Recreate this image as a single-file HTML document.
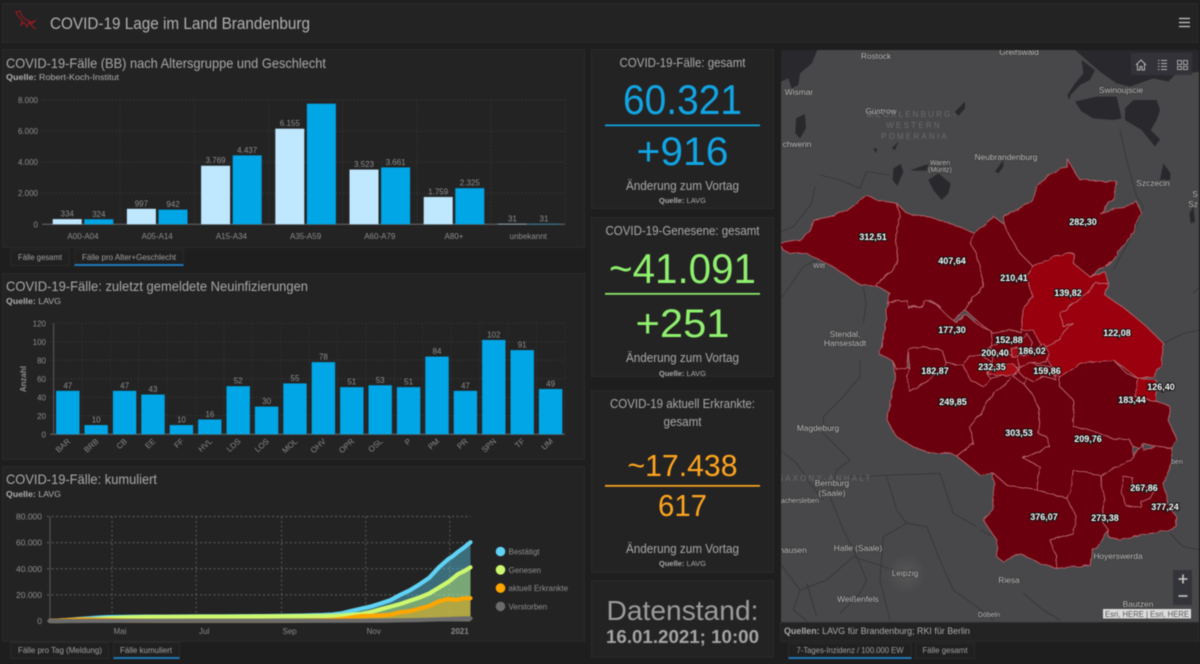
<!DOCTYPE html>
<html lang="de">
<head>
<meta charset="utf-8">
<title>COVID-19 Lage im Land Brandenburg</title>
<style>
html,body{margin:0;padding:0;background:#1e1e1e;width:1200px;height:664px;overflow:hidden;font-family:"Liberation Sans",sans-serif}
#stage{position:relative;width:1200px;height:664px;filter:blur(.45px)}
.panel{position:absolute;background:#232323;border:1px solid #2b2b2b;box-sizing:border-box}
.tab{position:absolute;background:#202020;border:1px solid #2a2a2a;box-sizing:border-box}
.tab.on{border-bottom:2px solid #1f78b8}
svg.layer{position:absolute;left:0;top:0;width:1200px;height:664px;pointer-events:none}
text{font-family:"Liberation Sans",sans-serif}
.t{fill:#a9a9a9;font-size:14px}
.q{fill:#b0b0b0;font-size:8.5px}
.c{text-anchor:middle}
.tabt{fill:#a0a0a0;font-size:8px;text-anchor:middle}
.m{fill:#bcbcbc;font-size:8.4px;text-anchor:middle;paint-order:stroke;stroke:#3a3a3a;stroke-width:1.5px}
.g{fill:#6c6c6c;font-size:8px;text-anchor:middle;letter-spacing:2.2px}
.v{fill:#fff;font-size:9px;font-weight:bold;text-anchor:middle;paint-order:stroke;stroke:#111;stroke-width:2px}
</style>
</head>
<body>
<div id="stage">
  <div class="panel" style="left:2px;top:3px;width:1196px;height:40px"></div>
  <div class="panel" style="left:2px;top:49px;width:583px;height:199px"></div>
  <div class="panel" style="left:2px;top:273px;width:583px;height:187px"></div>
  <div class="panel" style="left:2px;top:466px;width:583px;height:176px"></div>
  <div class="panel" style="left:591px;top:49px;width:183px;height:160px"></div>
  <div class="panel" style="left:591px;top:217px;width:183px;height:160px"></div>
  <div class="panel" style="left:591px;top:390px;width:183px;height:183px"></div>
  <div class="panel" style="left:591px;top:580px;width:183px;height:78px"></div>
  <div class="panel" style="left:780px;top:622px;width:419px;height:20px"></div>

  <div class="tab" style="left:10px;top:249px;width:60px;height:17px"></div>
  <div class="tab on" style="left:74px;top:249px;width:110px;height:17px"></div>
  <div class="tab" style="left:10px;top:642px;width:99px;height:17px"></div>
  <div class="tab on" style="left:113px;top:642px;width:67px;height:17px"></div>
  <div class="tab on" style="left:788px;top:643px;width:124px;height:16px"></div>
  <div class="tab" style="left:915px;top:643px;width:60px;height:16px"></div>

  <!-- MAP -->
  <svg class="layer" viewBox="0 0 1200 664">
    <defs>
      <clipPath id="mapclip"><rect x="781" y="50" width="418" height="572"/></clipPath>
      <filter id="rough" x="-5%" y="-5%" width="110%" height="110%">
        <feTurbulence type="fractalNoise" baseFrequency="0.11" numOctaves="2" seed="4"/>
        <feDisplacementMap in="SourceGraphic" scale="4"/>
      </filter>
      <radialGradient id="city"><stop offset="0" stop-color="#666" stop-opacity=".5"/><stop offset="1" stop-color="#666" stop-opacity="0"/></radialGradient>
    </defs>
    <g clip-path="url(#mapclip)">
      <rect x="781" y="50" width="418" height="572" fill="#48484a"/>
      <g transform="translate(780,40) scale(.33333)" fill="#29292d">
        <path d="M885 30L1260 30L1260 95L1185 105L1165 125L1120 115L1050 140L1010 130L960 95Z"/>
        <path d="M3 30L112 30L95 70L60 100L55 135L35 145L25 115L3 125Z"/>
        <path d="M905 60L945 90L930 120L900 135L872 165L868 180L862 165L885 130L910 100Z"/>
        <path d="M885 185L950 170L1010 170L1025 235L1000 240L940 235L905 215Z"/>
        <path d="M1035 205L1060 180L1130 180L1140 210L1130 240L1112 270L1140 298L1125 320L1085 270L1060 255L1035 240Z"/>
        <path d="M1150 370L1172 400L1170 420L1140 420Z"/>
        <path d="M48 235L75 222L78 265L60 295L46 280Z"/>
        <path d="M525 215L555 185L555 205L535 228Z"/>
        <path d="M445 420L475 400L512 430L505 460L485 480L460 450Z"/>
        <path d="M340 385L362 372L370 395L352 438L338 420ZM392 390L445 372L440 392L400 392Z"/>
        <path d="M645 395L670 360L670 380L655 400ZM280 325L292 325L288 340ZM335 325L355 305L345 330ZM1228 520L1240 500L1245 545L1232 550Z"/>
      </g>
      <g transform="translate(780,40) scale(.33333)" fill="none" stroke="#35353a" stroke-width="2.4">
        <path d="M120 405L180 420L240 445L260 395L330 405"/>
        <path d="M105 440L95 490L40 560L0 575"/>
        <path d="M0 780L70 680L110 660"/>
        <path d="M1020 270L1040 360L1070 470L1090 500L1070 560L1000 690"/>
        <path d="M1150 910L1210 880L1260 870M1240 760L1260 740"/>
        <path d="M250 740L258 790L250 850"/>
      </g>
      <g transform="translate(780,350) scale(.33333)" fill="none" stroke="#343438" stroke-width="2.4">
        <path d="M240 30L240 80L190 140L130 200L130 250L210 330L170 360L150 440L190 540L230 620L260 690L240 730L180 790"/>
        <path d="M0 300L50 340L90 400L130 450"/>
        <path d="M320 380L350 480L380 520L440 530L480 630L520 720L590 770L640 810"/>
        <path d="M380 520L310 560L300 690L330 810"/>
        <path d="M0 640L60 720L40 780L80 812M60 720L140 690L220 620L340 660M80 700L110 800"/>
        <path d="M210 380L480 370L520 490L590 530M600 540L640 560"/>
        <path d="M730 730L790 780L840 810"/>
        <path d="M1170 550L1210 590L1260 600"/>
      </g>
      <circle cx="906" cy="574" r="20" fill="url(#city)"/>
      <g filter="url(#rough)">
        <polygon points="950,322 1040,318 1075,340 1130,372 1150,388 1130,420 1050,420 990,400 950,370" fill="#6c0510"/>
        <g transform="translate(780,40) scale(.33333)" stroke="#b8696f" stroke-width="2.6" stroke-linejoin="round">
          <path fill="#6f0510" d="M0 610L60 600L90 570L100 540L150 530L200 510L260 465L290 480L350 490L360 530L345 600L355 660L330 700L290 735L240 735L190 700L140 670L80 640L30 640L5 625Z"/>
          <path fill="#6d0510" d="M350 490L380 520L440 530L510 550L585 580L570 610L590 640L600 680L610 740L580 770L555 810L540 830L500 850L480 800L450 780L420 800L380 800L370 780L320 790L330 760L285 735L330 700L355 660L345 600L360 530Z"/>
          <path fill="#6c040e" d="M585 580L640 530L670 550L690 590L720 640L760 680L740 710L760 770L730 800L725 880L690 870L640 880L600 850L555 810L580 770L610 740L600 680L590 640L570 610Z"/>
          <path fill="#6d0510" d="M670 530L710 510L760 480L770 440L820 400L860 380L860 355L880 390L900 420L1010 425L1005 470L960 520L1060 490L1070 485L1085 520L1050 590L1000 660L960 690L930 710L880 670L880 640L820 650L760 680L720 640L690 590L670 550Z"/>
          <path fill="#980510" d="M760 680L820 650L880 640L880 670L930 710L975 695L985 730L950 730L920 760L840 820L850 860L880 850L830 900L790 930L760 870L725 870L730 800L760 770L740 710Z"/>
          <path fill="#9a0510" d="M985 730L975 765L1040 810L1100 860L1150 910L1145 970L1120 1010L1075 1015L1000 960L950 975L900 975L850 1020L830 1010L790 930L830 900L880 850L850 860L840 820L920 760L950 730Z"/>
        </g>
        <g transform="translate(870,290) scale(.33333)" stroke="#b8696f" stroke-width="2.6" stroke-linejoin="round">
          <path fill="#700510" d="M55 35L110 30L115 55L155 50L165 30L200 45L230 75L255 95L290 75L325 105L365 125L365 170L330 195L300 200L280 225L230 220L215 180L160 170L115 180L110 230L80 240L70 215L25 190L35 170L45 100Z"/>
          <path fill="#6b0510" d="M70 215L80 240L110 230L118 235L110 260L120 305L170 275L200 250L230 220L280 225L300 270L340 290L360 265L410 255L440 250L430 260L370 310L340 360L300 410L310 460L260 498L240 490L180 490L130 470L80 440L50 390L60 350L65 310L75 250Z"/>
          <path fill="#6e0510" d="M115 180L160 170L215 180L230 220L200 250L170 275L120 305L110 260L118 235Z"/>
          <path fill="#780510" d="M280 225L300 200L330 195L365 215L350 250L360 265L340 290L300 270Z"/>
        </g>
        <g transform="translate(780,350) scale(.33333)" stroke="#b8696f" stroke-width="2.6" stroke-linejoin="round">
          <path fill="#6a040e" d="M530 318L600 375L640 370L680 405L770 420L780 350L730 325L810 290L800 260L775 250L780 180L755 130L730 100L700 80L640 130L610 180L570 230L580 280Z"/>
          <path fill="#6a040e" d="M730 100L755 70L840 80L840 110L880 150L880 230L930 240L1000 265L1050 270L1060 290L1060 320L1020 350L960 375L880 360L870 430L860 445L770 420L780 350L730 325L810 290L800 260L775 250L780 180L755 130Z"/>
          <path fill="#6b0510" d="M840 80L900 40L1000 30L1040 70L1075 85L1065 140L1130 155L1170 170L1165 210L1190 270L1175 295L1130 290L1090 280L1085 295L1060 290L1050 270L1000 265L930 240L880 230L880 150L840 110Z"/>
          <path fill="#9a0510" d="M1075 85L1130 90L1130 155L1065 140Z"/>
          <path fill="#6b0510" d="M640 370L680 405L770 420L860 445L890 500L880 550L810 570L830 620L830 655L780 640L720 610L670 635L650 620L650 570L610 510L640 480Z"/>
          <path fill="#6a040e" d="M870 430L880 360L960 375L975 450L965 510L985 540L960 580L940 600L930 645L830 655L830 620L810 570L880 550L890 500L860 445Z"/>
          <path fill="#6c0510" d="M960 375L1020 350L1060 320L1085 280L1090 300L1130 290L1175 295L1175 340L1150 400L1165 470L1190 500L1190 530L1170 540L1100 550L1020 570L985 560L985 540L965 510L975 450Z"/>
          <path fill="#6c0510" d="M1030 380L1060 385L1050 415L1130 410L1110 445L1085 455L1080 470L1040 470L1025 430Z"/>
        </g>
        <g transform="translate(950,310) scale(.33333)" stroke="#c0797f" stroke-width="2.4" stroke-linejoin="round">
          <path fill="#760510" d="M125 110L160 90L210 100L230 70L250 100L240 130L205 140L170 130L125 140Z"/>
          <path fill="#7e0510" d="M125 130L170 130L205 140L205 170L170 175L125 170Z"/>
          <path fill="#a00812" d="M180 112L205 112L207 140L185 140Z"/>
          <path fill="#7d0510" d="M205 140L240 130L280 100L300 130L290 155L240 160L205 170Z"/>
          <path fill="#a50812" d="M110 190L140 165L190 162L205 180L190 195L160 198Z"/>
          <path fill="#780510" d="M205 170L240 160L300 170L320 210L280 200L250 215L220 200L205 185Z"/>
        </g>
      </g>
      <g>
        <text class="m" x="876" y="59">Rostock</text>
        <text class="m" x="1019" y="55">Greifswald</text>
        <text class="m" x="799" y="95">Wismar</text>
        <text class="m" x="881" y="114">Güstrow</text>
        <text class="m" x="797" y="147">chwerin</text>
        <text class="g" x="912" y="117">MECKLENBURG-</text>
        <text class="g" x="914" y="128">WESTERN</text>
        <text class="g" x="915" y="139">POMERANIA</text>
        <text class="m" x="940" y="165" style="font-size:7px">Waren</text>
        <text class="m" x="940" y="172" style="font-size:7px">(Müritz)</text>
        <text class="m" x="1006" y="160">Neubrandenburg</text>
        <text class="m" x="1121" y="93">Swinoujscie</text>
        <text class="m" x="1153" y="186">Szczecin</text>
        <text class="m" x="1195" y="197">S</text>
        <text class="m" x="1193" y="207">Sz</text>
        <text class="m" x="845" y="337">Stendal,</text>
        <text class="m" x="845" y="346">Hansestadt</text>
        <text class="m" x="819" y="268" style="font-size:7px">Witt</text>
        <text class="m" x="818" y="431">Magdeburg</text>
        <text class="g" x="825" y="481">SAXONY-ANHALT</text>
        <text class="m" x="832" y="486">Bernburg</text>
        <text class="m" x="832" y="496">(Saale)</text>
        <text class="m" x="800" y="503" style="font-size:7px">achersleben</text>
        <text class="m" x="793" y="553">hausen</text>
        <text class="m" x="858" y="551">Halle (Saale)</text>
        <text class="m" x="905" y="576">Leipzig</text>
        <text class="m" x="1009" y="583">Riesa</text>
        <text class="m" x="858" y="602">Weißenfels</text>
        <text class="m" x="989" y="617" style="font-size:7px">Döbeln</text>
        <text class="m" x="1118" y="559">Hoyerswerda</text>
        <text class="m" x="1138" y="607">Bautzen</text>
        <text class="m" x="1177" y="464" style="font-size:7px">ben</text>
      </g>
      <g>
        <text class="v" x="873" y="240">312,51</text>
        <text class="v" x="952" y="264">407,64</text>
        <text class="v" x="1014" y="281">210,41</text>
        <text class="v" x="1083" y="225">282,30</text>
        <text class="v" x="1068" y="296">139,82</text>
        <text class="v" x="1117" y="336">122,08</text>
        <text class="v" x="952" y="333">177,30</text>
        <text class="v" x="1009" y="343">152,88</text>
        <text class="v" x="995" y="356">200,40</text>
        <text class="v" x="1032" y="354">186,02</text>
        <text class="v" x="992" y="370">232,35</text>
        <text class="v" x="935" y="374">182,87</text>
        <text class="v" x="1047" y="374">159,86</text>
        <text class="v" x="1161" y="390">126,40</text>
        <text class="v" x="1132" y="403">183,44</text>
        <text class="v" x="953" y="405">249,85</text>
        <text class="v" x="1019" y="436">303,53</text>
        <text class="v" x="1088" y="442">209,76</text>
        <text class="v" x="1144" y="491">267,86</text>
        <text class="v" x="1165" y="510">377,24</text>
        <text class="v" x="1044" y="520">376,07</text>
        <text class="v" x="1105" y="521">273,38</text>
      </g>
      <!-- map widgets -->
      <rect x="1131" y="53" width="61" height="22" fill="#33333a" opacity=".9"/>
      <g fill="none" stroke="#b5b5b5" stroke-width="1">
        <path d="M1136 65L1141 60L1146 65M1137.5 64V70H1140V66.5H1142V70H1144.5V64"/>
      </g>
      <g stroke="#b5b5b5" stroke-width="1">
        <path d="M1158 60.5H1159.5M1161 60.5H1167M1158 63.5H1159.5M1161 63.5H1167M1158 66.5H1159.5M1161 66.5H1167M1158 69.5H1159.5M1161 69.5H1167"/>
      </g>
      <g fill="none" stroke="#a5a5a5" stroke-width="1">
        <rect x="1177.5" y="60.5" width="4" height="4"/><rect x="1183.5" y="60.5" width="4" height="4"/>
        <rect x="1177.5" y="66.5" width="4" height="3"/><rect x="1183.5" y="66.5" width="4" height="3"/>
      </g>
      <rect x="1173" y="570" width="19" height="35" fill="#33333a"/>
      <path d="M1178.5 579H1187.5M1183 574.5V583.5" stroke="#c8c8c8" stroke-width="1.6"/>
      <path d="M1178.5 596H1187.5" stroke="#c8c8c8" stroke-width="1.6"/>
      <rect x="1103" y="609" width="88" height="9.5" fill="#dcdcdc"/>
      <text x="1147" y="616.8" text-anchor="middle" fill="#555" font-size="8" textLength="84" lengthAdjust="spacingAndGlyphs">Esri, HERE | Esri, HERE</text>
    </g>
  </svg>

  <!-- STATIC TEXT -->
  <svg class="layer" viewBox="0 0 1200 664">
    <g transform="translate(15,10)" fill="none" stroke="#8c1c22" stroke-width="1.2">
      <path d="M1 2L5 1L7 6L10 9L16 12L20 11L17 14L14 12L12 17L9 12L6 15L7 10L3 6Z"/>
      <path d="M14 13L18 17L21 19"/>
    </g>
    <text x="50" y="29" font-size="16.5" fill="#b0b0b0" textLength="260" lengthAdjust="spacingAndGlyphs">COVID-19 Lage im Land Brandenburg</text>
    <path d="M1179 18.5H1190M1179 22.5H1190M1179 26.5H1190" stroke="#c8c8c8" stroke-width="1.3"/>

    <text class="t" x="6" y="68" textLength="320" lengthAdjust="spacingAndGlyphs">COVID-19-Fälle (BB) nach Altersgruppe und Geschlecht</text>
    <text class="q" x="6" y="80" textLength="113" lengthAdjust="spacingAndGlyphs"><tspan font-weight="bold">Quelle:</tspan> Robert-Koch-Institut</text>
    <text class="t" x="6" y="291" textLength="302" lengthAdjust="spacingAndGlyphs">COVID-19-Fälle: zuletzt gemeldete Neuinfizierungen</text>
    <text class="q" x="6" y="304" textLength="55" lengthAdjust="spacingAndGlyphs"><tspan font-weight="bold">Quelle:</tspan> LAVG</text>
    <text class="t" x="6" y="484" textLength="151" lengthAdjust="spacingAndGlyphs">COVID-19-Fälle: kumuliert</text>
    <text class="q" x="6" y="497" textLength="55" lengthAdjust="spacingAndGlyphs"><tspan font-weight="bold">Quelle:</tspan> LAVG</text>

    <text class="tabt" x="40" y="260" textLength="44" lengthAdjust="spacingAndGlyphs">Fälle gesamt</text>
    <text class="tabt" x="129" y="260" textLength="94" lengthAdjust="spacingAndGlyphs">Fälle pro Alter+Geschlecht</text>
    <text class="tabt" x="60" y="653" textLength="84" lengthAdjust="spacingAndGlyphs">Fälle pro Tag (Meldung)</text>
    <text class="tabt" x="146" y="653" textLength="52" lengthAdjust="spacingAndGlyphs">Fälle kumuliert</text>
    <text class="tabt" x="850" y="653" textLength="107" lengthAdjust="spacingAndGlyphs">7-Tages-Inzidenz / 100.000 EW</text>
    <text class="tabt" x="945" y="653" textLength="45" lengthAdjust="spacingAndGlyphs">Fälle gesamt</text>
    <text x="784" y="634" font-size="9" fill="#aaa" textLength="186" lengthAdjust="spacingAndGlyphs"><tspan font-weight="bold">Quellen:</tspan> LAVG für Brandenburg; RKI für Berlin</text>

    <text class="c" x="682.5" y="67" font-size="12.5" fill="#a9a9a9" textLength="126" lengthAdjust="spacingAndGlyphs">COVID-19-Fälle: gesamt</text>
    <text class="c" x="682.5" y="114" font-size="42" fill="#11a5e4" textLength="119" lengthAdjust="spacingAndGlyphs">60.321</text>
    <rect x="605" y="124.5" width="155" height="1.7" fill="#11a5e4"/>
    <text class="c" x="682.5" y="165" font-size="40" fill="#11a5e4" textLength="92" lengthAdjust="spacingAndGlyphs">+916</text>
    <text class="c" x="682.5" y="190" font-size="12.5" fill="#a9a9a9" textLength="113" lengthAdjust="spacingAndGlyphs">Änderung zum Vortag</text>
    <text class="c" x="682.5" y="203" font-size="7.5" fill="#a9a9a9" textLength="47" lengthAdjust="spacingAndGlyphs"><tspan font-weight="bold">Quelle:</tspan> LAVG</text>

    <text class="c" x="682.5" y="235" font-size="12.5" fill="#a9a9a9" textLength="154" lengthAdjust="spacingAndGlyphs">COVID-19-Genesene: gesamt</text>
    <text class="c" x="682.5" y="283" font-size="42" fill="#8ff06e" textLength="147" lengthAdjust="spacingAndGlyphs">~41.091</text>
    <rect x="605" y="293" width="155" height="1.7" fill="#8ff06e"/>
    <text class="c" x="682.5" y="337" font-size="40" fill="#8ff06e" textLength="94" lengthAdjust="spacingAndGlyphs">+251</text>
    <text class="c" x="682.5" y="362" font-size="12.5" fill="#a9a9a9" textLength="113" lengthAdjust="spacingAndGlyphs">Änderung zum Vortag</text>
    <text class="c" x="682.5" y="376" font-size="7.5" fill="#a9a9a9" textLength="47" lengthAdjust="spacingAndGlyphs"><tspan font-weight="bold">Quelle:</tspan> LAVG</text>

    <text class="c" x="682.5" y="408" font-size="12.5" fill="#a9a9a9" textLength="145" lengthAdjust="spacingAndGlyphs">COVID-19 aktuell Erkrankte:</text>
    <text class="c" x="682.5" y="426" font-size="12.5" fill="#a9a9a9" textLength="38" lengthAdjust="spacingAndGlyphs">gesamt</text>
    <text class="c" x="682.5" y="476" font-size="31" fill="#ffa51e" textLength="110" lengthAdjust="spacingAndGlyphs">~17.438</text>
    <rect x="605" y="485" width="155" height="1.7" fill="#ffa51e"/>
    <text class="c" x="682.5" y="516" font-size="31" fill="#ffa51e" textLength="49" lengthAdjust="spacingAndGlyphs">617</text>
    <text class="c" x="682.5" y="553" font-size="12.5" fill="#a9a9a9" textLength="113" lengthAdjust="spacingAndGlyphs">Änderung zum Vortag</text>
    <text class="c" x="682.5" y="566" font-size="7.5" fill="#a9a9a9" textLength="47" lengthAdjust="spacingAndGlyphs"><tspan font-weight="bold">Quelle:</tspan> LAVG</text>

    <text class="c" x="682.5" y="620" font-size="28" fill="#9c9c9c" textLength="152" lengthAdjust="spacingAndGlyphs">Datenstand:</text>
    <text class="c" x="682.5" y="643" font-size="18" font-weight="bold" fill="#a4a4a4" textLength="153" lengthAdjust="spacingAndGlyphs">16.01.2021; 10:00</text>
  </svg>

  <svg id="ageChart" class="layer" viewBox="0 0 1200 664"></svg>
  <svg id="districtChart" class="layer" viewBox="0 0 1200 664"></svg>
  <svg id="cumChart" class="layer" viewBox="0 0 1200 664"></svg>
</div>

<script>
/* ---- age / gender chart data ---- */
const ageGroups = ["A00-A04","A05-A14","A15-A34","A35-A59","A60-A79","A80+","unbekannt"];
const femaleCases = [334,997,3769,6155,3523,1759,31];
const maleCases = [324,942,4437,7762,3661,2325,31];
const ageTicks = [0,2000,4000,6000,8000];

/* ---- district chart data ---- */
const districts = ["BAR","BRB","CB","EE","FF","HVL","LDS","LOS","MOL","OHV","OPR","OSL","P","PM","PR","SPN","TF","UM"];
const districtCases = [47,10,47,43,10,16,52,30,55,78,51,53,51,84,47,102,91,49];
const districtTicks = [0,20,40,60,80,100,120];

/* ---- cumulative chart data ---- */
const cumDates = ["2020-03-17","2020-03-24","2020-03-31","2020-04-07","2020-04-14","2020-04-21","2020-04-28","2020-05-12","2020-05-26","2020-06-09","2020-06-23","2020-07-07","2020-07-21","2020-08-04","2020-08-18","2020-09-01","2020-09-15","2020-10-01","2020-10-08","2020-10-15","2020-10-22","2020-10-29","2020-11-05","2020-11-12","2020-11-19","2020-11-26","2020-12-03","2020-12-10","2020-12-17","2020-12-24","2020-12-31","2021-01-03","2021-01-07","2021-01-11","2021-01-16"];
const confirmedCases = [100,400,900,1500,2100,2600,3000,3250,3350,3400,3450,3500,3550,3650,3750,3900,4150,4600,5000,6000,7800,9500,11200,13500,16000,20000,23500,28000,33000,41000,47500,49500,53000,56000,60321];
const recoveredCases = [0,30,100,300,800,1500,2100,2800,3100,3250,3300,3350,3400,3450,3550,3700,3750,3800,3950,4200,4800,5500,7000,9000,11000,13000,15500,18000,21000,25500,30000,32500,36000,38000,41091];
const activeCases = [100,360,780,1150,1230,1000,800,300,120,50,40,40,50,100,100,100,280,650,900,1600,2800,3800,4000,4300,4800,6700,7600,9500,11500,15000,16900,16400,16400,17400,17438];
const deathCases = [0,0,5,20,50,80,110,150,165,170,170,170,170,170,170,170,170,175,180,190,200,230,270,320,400,500,620,800,1000,1200,1450,1600,1750,1900,2050];
const cumTicks = [0,20000,40000,60000,80000];
const monthTicks = [["Mai","2020-05-01"],["Jul","2020-07-01"],["Sep","2020-09-01"],["Nov","2020-11-01"],["2021","2021-01-01"]];
const seriesNames = ["Bestätigt","Genesen","aktuell Erkrankte","Verstorben"];

const NS = "http://www.w3.org/2000/svg";
function make(parent, tag, attrs, txt) {
  const el = document.createElementNS(NS, tag);
  for (const k in attrs) el.setAttribute(k, attrs[k]);
  if (txt !== undefined) el.textContent = txt;
  parent.appendChild(el);
  return el;
}
function fmt(v) { return String(v).replace(/\B(?=(\d{3})+(?!\d))/g, "."); }

/* ---------- age chart ---------- */
(function () {
  const svg = document.getElementById("ageChart");
  const y0 = 224.3, yTop = 100, maxV = 8000, x0 = 45.9, band = 74.2, xEnd = 565;
  const y = v => y0 - (v / maxV) * (y0 - yTop);
  const bw = 29, gap = 2.6;
  ageTicks.forEach(t => {
    const line = make(svg, "line", {x1: 42, x2: xEnd, y1: y(t), y2: y(t), stroke: t === 0 ? "#6a6a6a" : "#383838", "stroke-dasharray": t === 0 ? "none" : "1.5 2"});
    
    
    const lab = make(svg, "text", {x: 38, y: y(t) + 3, "text-anchor": "end", fill: "#8e8e8e", "font-size": 8}, fmt(t));
    
    
  });
  ageGroups.forEach((g, i) => {
    const cx = x0 + band * (i + .5);
    const grid = make(svg, "line", {x1: x0 + band * (i + 1), x2: x0 + band * (i + 1), y1: yTop, y2: y0, stroke: "#333", "stroke-dasharray": "1.5 2"});
    
    
    const tick = make(svg, "text", {x: cx, y: 239, "text-anchor": "middle", fill: "#8e8e8e", "font-size": 8}, g);
    
    
    [[femaleCases[i], cx - gap / 2 - bw, "#bfe8ff"], [maleCases[i], cx + gap / 2, "#00a6e6"]].forEach(s => {
      const bar = make(svg, "rect", {x: s[1], y: y(s[0]), width: bw, height: y0 - y(s[0]), fill: s[2]});
      
      
      /* labels that would run past the top of the plot are dropped */
      if (y(s[0]) - 10 > yTop) {
        const vl = make(svg, "text", {x: s[1] + bw / 2, y: y(s[0]) - 2.5, "text-anchor": "middle", fill: "#8e8e8e", "font-size": 8}, fmt(s[0]));
        
        
      }
    });
  });
})();

/* ---------- district chart ---------- */
(function () {
  const svg = document.getElementById("districtChart");
  const y0 = 434.3, yTop = 323.3, maxV = 120, x0 = 53.6, band = 28.4, xEnd = 565;
  const y = v => y0 - (v / maxV) * (y0 - yTop);
  const bw = 23.4;
  districtTicks.forEach(t => {
    const line = make(svg, "line", {x1: 50, x2: xEnd, y1: y(t), y2: y(t), stroke: t === 0 ? "#6a6a6a" : "#383838", "stroke-dasharray": t === 0 ? "none" : "1.5 2"});
    
    
    const lab = make(svg, "text", {x: 46, y: y(t) + 3, "text-anchor": "end", fill: "#8e8e8e", "font-size": 8}, fmt(t));
    
    
  });
  const axisLine = make(svg, "line", {x1: 53.6, x2: 53.6, y1: yTop, y2: y0, stroke: "#5a5a5a"});
  
  
  const title = make(svg, "text", {transform: "translate(26,379) rotate(-90)", "text-anchor": "middle", fill: "#8e8e8e", "font-size": 8, "font-weight": "bold"}, "Anzahl");
  
  
  districts.forEach((d, i) => {
    const cx = x0 + band * (i + .5);
    const grid = make(svg, "line", {x1: x0 + band * (i + 1), x2: x0 + band * (i + 1), y1: yTop, y2: y0, stroke: "#313131", "stroke-dasharray": "1.5 2"});
    
    
    const v = districtCases[i];
    const bar = make(svg, "rect", {x: cx - bw / 2, y: y(v), width: bw, height: y0 - y(v), fill: "#00a6e6"});
    
    
    const vl = make(svg, "text", {x: cx, y: y(v) - 2.5, "text-anchor": "middle", fill: "#8e8e8e", "font-size": 8}, fmt(v));
    
    
    const tl = make(svg, "text", {transform: "translate(" + (cx + 3) + ",442) rotate(-42)", "text-anchor": "end", fill: "#8a8a8a", "font-size": 8}, d);
    
    
  });
})();

/* ---------- cumulative chart ---------- */
(function () {
  const svg = document.getElementById("cumChart");
  const y0 = 621, yTop = 516.5, maxV = 80000, xL = 50, xR = 470.5;
  const t0 = Date.parse("2020-03-17"), t1 = Date.parse("2021-01-16");
  const x = d => xL + (Date.parse(d) - t0) / (t1 - t0) * (xR - xL);
  const y = v => y0 - (v / maxV) * (y0 - yTop);
  cumTicks.forEach(t => {
    const line = make(svg, "line", {x1: 47, x2: xR, y1: y(t), y2: y(t), stroke: "#626262", "stroke-dasharray": t === 0 ? "none" : "2 2.5"});
    
    
    const lab = make(svg, "text", {x: 42, y: y(t) + 3, "text-anchor": "end", fill: "#8e8e8e", "font-size": 8.5}, fmt(t));
    
    
  });
  const yAxis = make(svg, "line", {x1: xL, x2: xL, y1: yTop, y2: y0, stroke: "#5a5a5a"});
  
  
  monthTicks.forEach(m => {
    const g = make(svg, "line", {x1: x(m[1]), x2: x(m[1]), y1: yTop, y2: y0, stroke: "#585858", "stroke-dasharray": "2 2.5"});
    
    
    const attrs = {x: x(m[1]) + 8, y: 634, "text-anchor": "middle", fill: "#8a8a8a", "font-size": 8};
    if (m[0] === "2021") { attrs.x = x(m[1]) + 10; attrs["font-weight"] = "bold"; }
    const lab = make(svg, "text", attrs, m[0]);
    
    
  });
  const series = [
    [confirmedCases, "#5fd3f5", .42],
    [recoveredCases, "#cdf86e", .42],
    [activeCases, "#ffa500", .42],
    [deathCases, "#6b6b6b", .8]
  ];
  series.forEach(s => {
    const pts = cumDates.map((d, k) => x(d).toFixed(1) + "," + y(s[0][k]).toFixed(1));
    const area = make(svg, "polygon", {points: xL + "," + y0 + " " + pts.join(" ") + " " + xR + "," + y0, fill: s[1], opacity: s[2]});
    
    
  });
  series.forEach((s, i) => {
    const pts = cumDates.map((d, k) => x(d).toFixed(1) + "," + y(s[0][k]).toFixed(1));
    const line = make(svg, "polyline", {points: pts.join(" "), fill: "none", stroke: s[1], "stroke-width": 4.2, "stroke-linecap": "round", "stroke-linejoin": "round"});
    
    
    const ly = 551.5 + i * 18.3;
    const dot = make(svg, "circle", {cx: 500.5, cy: ly, r: 4.8, fill: s[1]});
    
    
    const txt = make(svg, "text", {x: 508.5, y: ly + 3, fill: "#8e8e8e", "font-size": 8}, seriesNames[i]);
    
    
  });
})();
</script>
</body>
</html>
